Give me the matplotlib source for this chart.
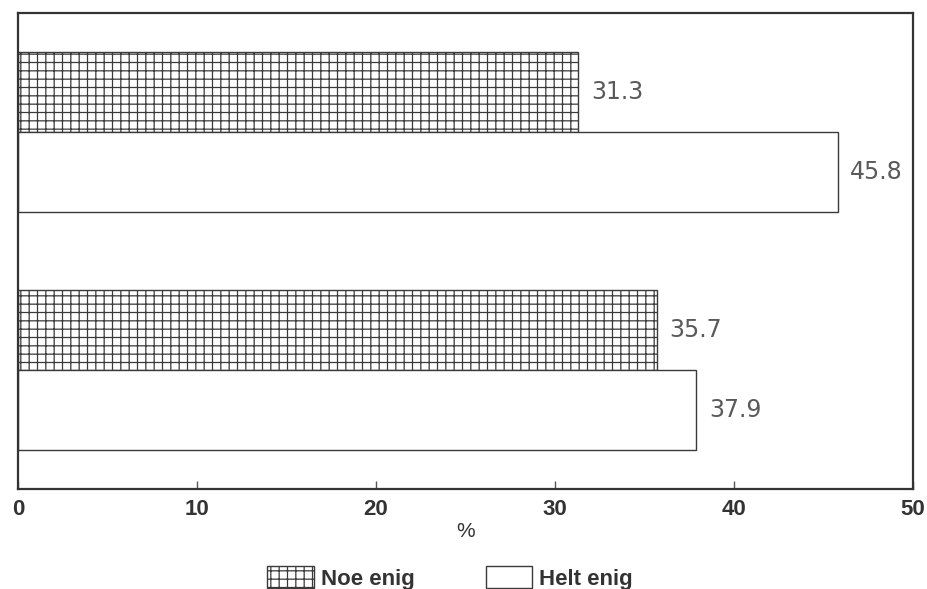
import matplotlib.pyplot as plt
from matplotlib.patches import Patch

plt.rcParams['hatch.linewidth'] = 0.9
plt.rcParams['hatch.color'] = '#555555'

# data
series = ['Noe enig', 'Helt enig']
group1 = [31.3, 45.8]
group2 = [35.7, 37.9]
xticks = [0, 10, 20, 30, 40, 50]

edge = '#3a3a3a'

fig = plt.figure(figsize=(9.27, 5.89), dpi=100)
ax = fig.add_axes([0.0194, 0.170, 0.9655, 0.808])

# bar positions (top group first)
pos = {'Noe enig': [4.96, 1.99], 'Helt enig': [3.96, 0.99]}
hatches = {'Noe enig': '++', 'Helt enig': ''}

for i, name in enumerate(series):
    vals = [group1[i], group2[i]]
    bars = ax.barh(pos[name], vals, height=1.0, left=0,
                   color='white', edgecolor=edge, linewidth=1.0,
                   hatch=hatches[name])
    for b, v in zip(bars, vals):
        ax.annotate(f'{v:.1f}', (b.get_width(), b.get_y() + b.get_height() / 2),
                    xytext=(9, 0), textcoords='offset points',
                    ha='left', va='center', fontsize=17,
                    family='DejaVu Sans', color='#5a5a5a')

ax.set_xlim(0, 50)
ax.set_ylim(0, 5.95)
ax.set_xticks(xticks)
ax.set_xticklabels([str(t) for t in xticks], family='Liberation Sans',
                   fontsize=16, fontweight='bold', color='#333333')
ax.set_yticks([])
ax.tick_params(axis='x', direction='in', length=6, width=1.0, color='#555555', pad=7)
for s in ax.spines.values():
    s.set_linewidth(1.6)
    s.set_color('#333333')

ax.set_xlabel('%', family='Liberation Sans', fontsize=15, color='#333333', labelpad=2)

handles = [Patch(facecolor='white', edgecolor=edge, hatch='++', linewidth=1.0),
           Patch(facecolor='white', edgecolor=edge, linewidth=1.0)]
fig.legend(handles, series, loc='center', bbox_to_anchor=(450 / 927, 1 - 578 / 589),
           ncol=2, frameon=False,
           prop={'family': 'Liberation Sans', 'size': 16, 'weight': 'bold'},
           handlelength=2.1, handleheight=1.1, handletextpad=0.3,
           columnspacing=3.2, labelcolor='#333333')

fig.savefig('out.png', dpi=100)
